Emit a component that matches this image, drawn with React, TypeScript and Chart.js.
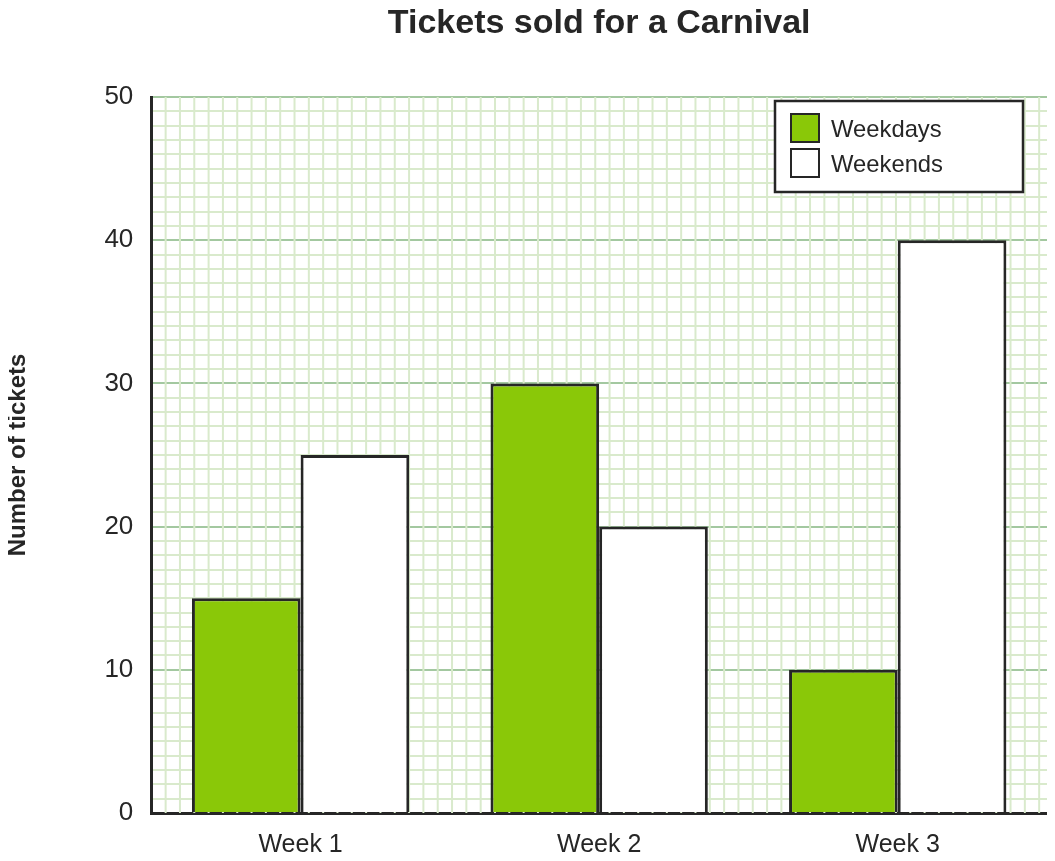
import { useEffect, useRef } from 'react';
import { Chart, registerables } from 'chart.js';

Chart.register(...registerables);

const weeks = ['Week 1', 'Week 2', 'Week 3'];
const weekdays = [15, 30, 10];
const weekends = [25, 20, 40];
const yTicks = [0, 10, 20, 30, 40, 50];
const chartTitle = 'Tickets sold for a Carnival';

const INK = '#262626';
const GREEN = '#8ac808';
const MAJOR = '#a3c8a0';
const MINOR = '#d9eacc';
const FONT = '"Liberation Sans", Arial, sans-serif';

// vertical minor grid, same step as the y axis unit so the cells are square
const squareGrid = {
  id: 'squareGrid',
  beforeDatasetsDraw(chart) {
    const { ctx, chartArea } = chart;
    const y = chart.scales.y;
    const step = Math.abs(y.getPixelForValue(1) - y.getPixelForValue(0));
    ctx.save();
    ctx.strokeStyle = MINOR;
    ctx.lineWidth = 2;
    for (let px = chartArea.left + step; px < chartArea.right; px += step) {
      ctx.beginPath();
      ctx.moveTo(px, chartArea.top);
      ctx.lineTo(px, chartArea.bottom);
      ctx.stroke();
    }
    ctx.restore();
  },
};

// title centred over the plot area, not the whole canvas
const plotTitle = {
  id: 'plotTitle',
  afterDraw(chart) {
    const { ctx, chartArea } = chart;
    ctx.save();
    ctx.font = `bold 34px ${FONT}`;
    ctx.fillStyle = INK;
    ctx.textAlign = 'center';
    ctx.textBaseline = 'middle';
    ctx.fillText(chartTitle, (chartArea.left + chartArea.right) / 2, 16);
    ctx.restore();
  },
};

const boxLegend = {
  id: 'boxLegend',
  afterDraw(chart) {
    const { ctx, chartArea } = chart;
    const w = 248;
    const h = 91;
    const x0 = chartArea.right - 24 - w;
    const y0 = chartArea.top + 4;
    ctx.save();
    ctx.fillStyle = '#ffffff';
    ctx.fillRect(x0, y0, w, h);
    ctx.strokeStyle = INK;
    ctx.lineWidth = 2.5;
    ctx.strokeRect(x0, y0, w, h);
    ctx.lineWidth = 2;
    ctx.font = `23.8px ${FONT}`;
    ctx.textBaseline = 'middle';
    chart.data.datasets.forEach((ds, i) => {
      const cy = y0 + 27 + i * 35;
      ctx.fillStyle = ds.backgroundColor;
      ctx.fillRect(x0 + 16, cy - 14, 28, 28);
      ctx.strokeRect(x0 + 16, cy - 14, 28, 28);
      ctx.fillStyle = INK;
      ctx.fillText(ds.label, x0 + 56, cy + 2);
    });
    ctx.restore();
  },
};

const App = () => {
  const canvasRef = useRef(null);

  useEffect(() => {
    const ctx = canvasRef.current.getContext('2d');

    const chart = new Chart(ctx, {
      type: 'bar',
      data: {
        labels: weeks,
        datasets: [
          {
            label: 'Weekdays',
            data: weekdays,
            backgroundColor: GREEN,
            borderColor: INK,
            borderWidth: 3,
            borderSkipped: 'bottom',
          },
          {
            label: 'Weekends',
            data: weekends,
            backgroundColor: '#ffffff',
            borderColor: INK,
            borderWidth: 3,
            borderSkipped: 'bottom',
          },
        ],
      },
      options: {
        animation: false,
        responsive: true,
        maintainAspectRatio: false,
        categoryPercentage: 0.728,
        barPercentage: 1,
        layout: { padding: { left: 0, right: 0, top: 89, bottom: 0 } },
        plugins: {
          legend: { display: false },
          tooltip: { enabled: false },
          title: { display: false },
        },
        scales: {
          x: {
            grid: { display: false, drawTicks: false },
            border: { display: true, color: INK, width: 3 },
            ticks: {
              color: INK,
              padding: 17,
              font: { family: FONT, size: 25 },
            },
          },
          y: {
            min: 0,
            max: 50,
            afterBuildTicks(scale) {
              const t = [];
              for (let v = 0; v <= 50; v++) t.push({ value: v });
              scale.ticks = t;
            },
            grid: {
              drawTicks: false,
              lineWidth: 2,
              color: (c) => (c.tick && c.tick.value % 10 === 0 ? MAJOR : MINOR),
            },
            border: { display: true, color: INK, width: 3 },
            ticks: {
              autoSkip: false,
              color: INK,
              padding: 18,
              font: { family: FONT, size: 26 },
              callback: (v) => (yTicks.includes(v) ? String(v) : ''),
            },
            title: {
              display: true,
              text: 'Number of tickets',
              color: INK,
              font: { family: FONT, size: 24, weight: 'bold', lineHeight: 0.85 },
              padding: { top: 0, bottom: 58 },
            },
          },
        },
      },
      plugins: [squareGrid, plotTitle, boxLegend],
    });

    return () => {
      chart.destroy();
    };
  }, []);

  return (
    <div style={{ width: 1039, height: 869, position: 'relative' }}>
      <canvas ref={canvasRef}></canvas>
    </div>
  );
};

export default App;
